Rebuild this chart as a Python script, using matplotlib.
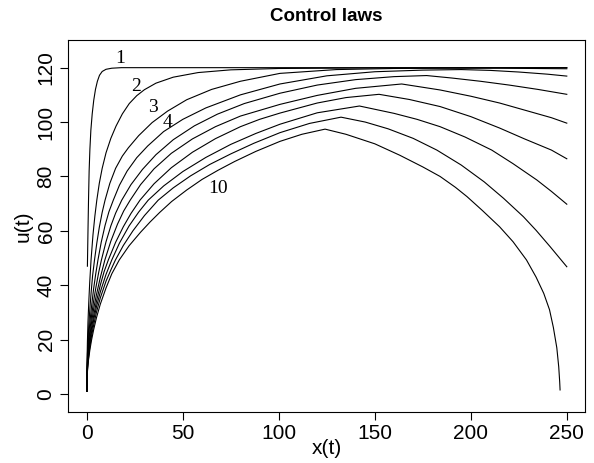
import matplotlib
matplotlib.use("Agg")
import matplotlib.pyplot as plt

# control laws
x1 = [0.3, 0.6, 0.9, 1.2, 1.6, 2.1, 2.8, 3.6, 4.5, 5.5, 6.6, 8, 10, 13, 18, 60, 120, 250]
u1 = [47, 60, 72, 82, 90, 97, 103, 108, 112, 115, 117.2, 118.6, 119.4, 119.8, 120, 120, 120, 120]

x2 = [0, 0.1, 0.3, 0.6, 1, 1.5, 2.2, 3.2, 4.2, 5.2, 6.5, 8, 10, 12.5, 15.2, 18.5, 22.1, 26, 30, 36,
      45, 58, 75, 100, 150, 250]
u2 = [1, 11, 19, 26.5, 33.5, 41, 49.3, 58.5, 65.5, 71.3, 77.5, 83, 88.7, 94, 98.5, 103, 106.8, 109.7, 111.9, 114.3,
      116.5, 118.2, 119.2, 119.7, 119.9, 120]

x3 = [0, 0.1, 0.3, 0.6, 1, 1.5, 2.2, 3, 4, 5.2, 6.5, 8, 9.5, 12, 15, 18.5, 21.6, 27, 34, 42, 52, 65, 80,
      100.6, 130, 160, 190, 215, 250]
u3 = [1, 8.5, 14.5, 19.5, 25, 30.5, 37, 43.5, 49.3, 55.5, 61.3, 66.8, 71.3, 77.5, 83, 87.5, 90.5, 95, 99.8, 104, 108.2, 112, 115,
      117.9, 119.3, 119.7, 119.8, 119.8, 119.6]

x4 = [0, 0.1, 0.3, 0.6, 1, 1.6, 2.5, 3.5, 4.6, 5.8, 7.5, 9.5, 11.5, 13.8, 17, 21, 26, 31.7, 40, 50, 62, 80,
      100.6, 125, 150, 175, 195, 210, 225, 240, 250]
u4 = [1, 7.5, 12.5, 17, 21.5, 26.5, 32.5, 38.5, 44, 49.3, 55.8, 62, 67, 71.3, 76.8, 82, 86.9, 91.2, 96.5, 101, 105.2, 110,
      114, 117, 118.5, 119.1, 119.3, 119, 118.4, 117.6, 116.9]

x5 = [0, 0.1, 0.3, 0.6, 1, 1.6, 2.5, 3.5, 4.8, 6.2, 7.6, 10, 12.5, 15, 18.2, 23, 29, 36, 45, 56, 68, 82,
      100.6, 120, 140, 160, 177, 190, 205, 220, 235, 250]
u5 = [1, 6.5, 11, 15, 19, 23.5, 29, 34, 39.5, 44.8, 49.3, 56, 61.8, 66.5, 71.3, 77, 82.6, 88, 93.5, 98.6, 102.9, 106.8,
      110.6, 113.6, 115.6, 116.7, 117.1, 116.2, 115, 113.6, 112, 110.2]

x6 = [0, 0.1, 0.3, 0.6, 1, 1.6, 2.5, 3.6, 5, 7, 9.4, 12.5, 16, 19.2, 22.6, 28, 35, 44, 55, 67, 80,
      100.6, 120, 140, 164, 184, 200, 215, 230, 242, 250]
u6 = [1, 6, 10, 13.5, 17, 21.5, 26.5, 31.5, 36.5, 42.8, 49.3, 56.2, 62.5, 67.3, 71.3, 77, 82.8, 88.5, 93.8, 98.3, 102.2,
      106.5, 109.8, 112.4, 114, 111.8, 109.5, 107, 104, 101.6, 99.6]

x7 = [0, 0.1, 0.3, 0.6, 1, 1.6, 2.5, 3.6, 5, 7, 9, 11.2, 15, 19, 23, 27.7, 35, 44, 55, 67, 80, 90,
      100.6, 120, 135, 152.2, 168, 184, 200, 215, 228, 242, 250]
u7 = [1, 5.5, 9.5, 13, 16, 20, 24.5, 29, 34, 40, 45, 49.3, 55.8, 61.5, 66.4, 71.3, 77.3, 83.2, 88.9, 93.9, 98.3, 101,
      103.3, 107, 109, 110.2, 108.3, 105.7, 102, 97.8, 93.8, 89.7, 86.5]

x8 = [0, 0.1, 0.3, 0.6, 1, 1.6, 2.5, 3.6, 5, 7, 10, 13, 17, 22, 27, 32, 40, 50, 62, 75, 88,
      100.6, 120, 142, 160, 172, 184, 197, 210.9, 222, 234.4, 242, 250]
u8 = [1, 5, 9, 12.3, 15, 18.8, 23, 27.3, 32, 37.5, 44, 49.3, 55.5, 61.8, 66.9, 71.3, 76.5, 81.8, 87, 91.8, 95.8,
      99.2, 103.4, 105.9, 103.2, 101, 98.3, 94.5, 89.7, 84.7, 78.7, 74.5, 69.8]

x9 = [0, 0.1, 0.3, 0.6, 1, 1.6, 2.5, 3.6, 5, 7, 10, 12.5, 14.9, 19, 24, 30, 37.2, 45, 54, 64, 75, 87,
      100.6, 116, 132.4, 145, 157, 170, 182.3, 195, 207, 217, 227.4, 234, 241.3, 246, 250]
u9 = [1, 4.8, 8.5, 11.5, 14, 17.5, 21.5, 25.5, 30, 35.3, 41.5, 45.6, 49.3, 54.6, 60, 65.6, 71.3, 75.8, 80.2, 84.4, 88.3, 92.2,
      96.1, 99.5, 101.8, 100, 97.5, 94, 89.7, 84.2, 78, 72, 65.2, 60.2, 54.2, 50.2, 46.8]

x10 = [0, 0.1, 0.3, 0.6, 1, 1.6, 2.5, 3.6, 5, 7, 10, 13, 16.9, 22, 28, 33, 38, 44.2, 52, 60, 68.4, 77, 88,
       100.6, 112, 124.1, 135, 150, 163, 175, 184, 192, 198, 206, 215, 222, 229, 234, 238, 241, 243,
       244.8, 245.8, 246.3, 246.5]
u10 = [1, 4.5, 8, 11, 13.2, 16.3, 20, 23.8, 28, 33, 39, 44.2, 49.3, 54.5, 59.5, 63.3, 66.8, 70.8, 75, 78.9, 82.3, 85.5, 89.2,
       92.9, 95.5, 97.4, 95.5, 92, 87.8, 83.5, 80, 76, 72.6, 67.5, 61.5, 56, 49.3, 43, 37, 31, 24.5,
       17, 10, 4.5, 1.5]

curves_x = [x1, x2, x3, x4, x5, x6, x7, x8, x9, x10]
curves_u = [u1, u2, u3, u4, u5, u6, u7, u8, u9, u10]

# curve labels (position of the text)
lab_text = ["1", "2", "3", "4", "10"]
lab_x = [17.5, 25.5, 34.5, 42, 68.5]
lab_u = [123.5, 113, 105.5, 100, 75.5]

plt.rcParams['font.family'] = ['Liberation Sans', 'DejaVu Sans']

fig = plt.figure(figsize=(5.94, 4.63), dpi=100)
ax = fig.add_axes([0.1145, 0.1102, 0.8704, 0.8024])

for xs, us in zip(curves_x, curves_u):
    ax.plot(xs, us, color='black', lw=0.8)

for t, lx, lu in zip(lab_text, lab_x, lab_u):
    ax.text(lx, lu, t, family='Liberation Serif', fontsize=14,
            ha='center', va='center')

ax.set_xlim(-9.8, 259.5)
ax.set_ylim(-6.6, 130)
ax.set_xticks([0, 50, 100, 150, 200, 250])
ax.set_yticks([0, 20, 40, 60, 80, 100, 120])
ax.tick_params(direction='out', length=6, width=0.8, labelsize=15, pad=3)
for lab in ax.get_yticklabels():
    lab.set_rotation(90)
    lab.set_va('center')
for s in ax.spines.values():
    s.set_linewidth(0.8)

ax.set_xlabel('x(t)', fontsize=15, labelpad=-3.5)
ax.set_ylabel('u(t)', fontsize=15, labelpad=2.5)
ax.set_title('Control laws', fontsize=13.5, fontweight='bold', pad=14)

fig.savefig('out.png', dpi=100)
